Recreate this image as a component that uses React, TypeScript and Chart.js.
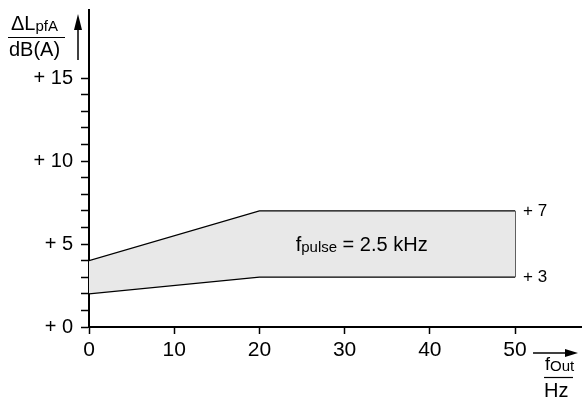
import React, { useEffect, useRef } from "react";
import { Chart, registerables } from "chart.js";

Chart.register(...registerables);

// ---- data ----
const fOutHz = [0, 20, 50];
const lowerDb = [2, 3, 3];
const upperDb = [4, 7, 7];
const xTickValues = [0, 10, 20, 30, 40, 50];
const yLabelValues = [0, 5, 10, 15];
const yMinorMax = 15;
const bandLabel = "= 2.5 kHz";
const bandLabelSub = "pulse";
const bandLabelPos = { x: 32, y: 5 };

const FONT = "'Liberation Sans', Arial, sans-serif";

function arrow(ctx: CanvasRenderingContext2D, x1: number, y1: number, x2: number, y2: number, head: number, half: number) {
  const ang = Math.atan2(y2 - y1, x2 - x1);
  ctx.beginPath();
  ctx.moveTo(x1, y1);
  ctx.lineTo(x2 - Math.cos(ang) * head * 0.8, y2 - Math.sin(ang) * head * 0.8);
  ctx.stroke();
  ctx.beginPath();
  ctx.moveTo(x2, y2);
  ctx.lineTo(x2 - Math.cos(ang) * head - Math.sin(ang) * half, y2 - Math.sin(ang) * head + Math.cos(ang) * half);
  ctx.lineTo(x2 - Math.cos(ang) * head + Math.sin(ang) * half, y2 - Math.sin(ang) * head - Math.cos(ang) * half);
  ctx.closePath();
  ctx.fill();
}

function subText(ctx: CanvasRenderingContext2D, x: number, y: number, main: string, sub: string, rest: string, big: number, small: number) {
  ctx.textBaseline = "alphabetic";
  ctx.textAlign = "left";
  ctx.font = `${big}px ${FONT}`;
  ctx.fillText(main, x, y);
  let cx = x + ctx.measureText(main).width;
  ctx.font = `${small}px ${FONT}`;
  ctx.fillText(sub, cx, y + 1);
  cx += ctx.measureText(sub).width;
  if (rest) {
    ctx.font = `${big}px ${FONT}`;
    ctx.fillText(rest, cx, y);
    cx += ctx.measureText(rest).width;
  }
  return cx;
}

const decorPlugin = {
  id: "decor",
  afterDraw(chart: any) {
    const ctx: CanvasRenderingContext2D = chart.ctx;
    const xs = chart.scales.x;
    const ys = chart.scales.y;
    const area = chart.chartArea;
    ctx.save();
    ctx.fillStyle = "#000";
    ctx.strokeStyle = "#000";

    // band text
    const bx = xs.getPixelForValue(bandLabelPos.x);
    const by = ys.getPixelForValue(bandLabelPos.y);
    ctx.font = `20px ${FONT}`;
    const w1 = ctx.measureText("f").width;
    const w3 = ctx.measureText(" " + bandLabel).width;
    ctx.font = `15px ${FONT}`;
    const w2 = ctx.measureText(bandLabelSub).width;
    const tw = w1 + w2 + w3;
    subText(ctx, bx - tw / 2, by + 7, "f", bandLabelSub, " " + bandLabel, 20, 15);

    // right end labels
    const lastX = fOutHz[fOutHz.length - 1];
    ctx.font = `17px ${FONT}`;
    ctx.textAlign = "left";
    ctx.textBaseline = "middle";
    const ex = xs.getPixelForValue(lastX) + 8;
    ctx.fillText("+ " + upperDb[upperDb.length - 1], ex, ys.getPixelForValue(upperDb[upperDb.length - 1]));
    ctx.fillText("+ " + lowerDb[lowerDb.length - 1], ex, ys.getPixelForValue(lowerDb[lowerDb.length - 1]));

    // y axis title
    const L = area.left;
    subText(ctx, L - 78, 30, "\u0394L", "pfA", "", 20, 15);
    ctx.lineWidth = 1.2;
    ctx.beginPath();
    ctx.moveTo(L - 81, 37.5);
    ctx.lineTo(L - 24, 37.5);
    ctx.stroke();
    ctx.font = `20px ${FONT}`;
    ctx.textBaseline = "alphabetic";
    ctx.fillText("dB(A)", L - 80, 56);
    ctx.lineWidth = 1.5;
    arrow(ctx, L - 11, 60, L - 11, 14, 16, 4);

    // x axis title
    const B = area.bottom;
    const ax = xs.getPixelForValue(lastX);
    arrow(ctx, ax + 18, B + 26, ax + 63, B + 26, 13, 4);
    subText(ctx, ax + 30, B + 43, "f", "Out", "", 18, 15);
    ctx.lineWidth = 1.2;
    ctx.beginPath();
    ctx.moveTo(ax + 29, B + 50.5);
    ctx.lineTo(ax + 58, B + 50.5);
    ctx.stroke();
    ctx.font = `20px ${FONT}`;
    ctx.textBaseline = "alphabetic";
    ctx.fillText("Hz", ax + 29, B + 70);

    ctx.restore();
  },
};

export default function App() {
  const ref = useRef<HTMLCanvasElement | null>(null);
  useEffect(() => {
    if (!ref.current) return;
    const lower = fOutHz.map((x, i) => ({ x, y: lowerDb[i] }));
    const upper = fOutHz.map((x, i) => ({ x, y: upperDb[i] }));
    const lastX = fOutHz[fOutHz.length - 1];
    const edge = [
      { x: lastX, y: lowerDb[lowerDb.length - 1] },
      { x: lastX, y: upperDb[upperDb.length - 1] },
    ];
    const chart = new Chart(ref.current, {
      type: "line",
      data: {
        datasets: [
          { data: lower, borderColor: "#000", borderWidth: 1.2, pointRadius: 0, fill: false, tension: 0 },
          { data: upper, borderColor: "#000", borderWidth: 1.2, pointRadius: 0, fill: "-1", backgroundColor: "#e8e8e8", tension: 0 },
          { data: edge, borderColor: "#000", borderWidth: 1.2, pointRadius: 0, fill: false },
        ],
      },
      options: {
        responsive: false,
        animation: false,
        devicePixelRatio: 1,
        layout: { padding: { top: 10, right: 0, left: 0, bottom: 0 } },
        plugins: { legend: { display: false }, tooltip: { enabled: false } },
        scales: {
          x: {
            type: "linear",
            min: 0,
            max: 57.86,
            afterFit: (s: any) => { s.height = 79; s.paddingLeft = 0; s.paddingRight = 0; },
            border: { display: true, color: "#000", width: 2 },
            grid: {
              drawOnChartArea: false,
              drawTicks: true,
              tickLength: 7,
              tickWidth: 1.5,
              tickColor: (c: any) => (c.tick && xTickValues.includes(c.tick.value) ? "#000" : "rgba(0,0,0,0)"),
            },
            ticks: {
              stepSize: 10,
              includeBounds: false,
              autoSkip: false,
              maxRotation: 0,
              padding: 4,
              color: "#000",
              font: { family: FONT, size: 21 },
              callback: (v: any) => (xTickValues.includes(v) ? String(v) : ""),
            },
          },
          y: {
            type: "linear",
            min: 0,
            max: 19.1,
            afterFit: (s: any) => { s.width = 89; s.paddingTop = 0; s.paddingBottom = 0; },
            border: { display: true, color: "#000", width: 2 },
            grid: {
              drawOnChartArea: false,
              drawTicks: true,
              tickLength: 8,
              tickWidth: 1.5,
              tickColor: (c: any) => (c.tick && Number.isInteger(c.tick.value) && c.tick.value <= yMinorMax ? "#000" : "rgba(0,0,0,0)"),
            },
            ticks: {
              stepSize: 1,
              includeBounds: false,
              autoSkip: false,
              padding: 8,
              color: "#000",
              font: { family: FONT, size: 20 },
              callback: (v: any) => (yLabelValues.includes(v) ? "+ " + v : ""),
            },
          },
        },
      },
      plugins: [decorPlugin],
    });
    return () => chart.destroy();
  }, []);
  return (
    <div style={{ position: "fixed", left: 0, top: 0, width: 582, height: 406, background: "#fff" }}>
      <canvas ref={ref} width={582} height={406} style={{ width: 582, height: 406, display: "block" }} />
    </div>
  );
}
